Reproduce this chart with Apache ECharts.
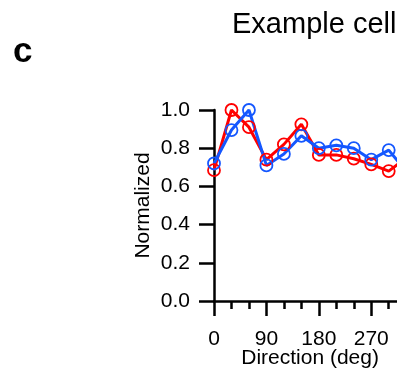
<!DOCTYPE html>
<html>
<head>
<meta charset="utf-8">
<script src="https://cdn.jsdelivr.net/npm/echarts@6/dist/echarts.min.js"></script>
<style>
  html, body { margin: 0; padding: 0; background: #fff; }
  #chart { width: 397px; height: 373px; }
</style>
</head>
<body>
<div id="chart"></div>
<script>
// Direction tuning of one example cell, two conditions
const directions = [0, 30, 60, 90, 120, 150, 180, 210, 240, 270, 300, 330];
const redResponse  = [0.685, 1.0, 0.91, 0.74, 0.82, 0.925, 0.765, 0.765, 0.745, 0.715, 0.68, 0.75];
const blueResponse = [0.72, 0.895, 1.0, 0.71, 0.77, 0.865, 0.80, 0.815, 0.80, 0.74, 0.79, 0.68];
const xTickLabels = [0, 90, 180, 270];
const yTickLabels = [0.0, 0.2, 0.4, 0.6, 0.8, 1.0];

const FONT = 'Liberation Sans, Arial, sans-serif';
const INK = '#000';

function pairs(xs, ys) { return xs.map((x, i) => [x, ys[i]]); }

function lineSeries(name, color, values) {
  return {
    name: name,
    type: 'line',
    data: pairs(directions, values),
    symbol: 'circle',
    symbolSize: 12,
    showSymbol: true,
    clip: false,
    lineStyle: { color: color, width: 3 },
    itemStyle: { color: 'rgba(0,0,0,0)', borderColor: color, borderWidth: 1.8 },
    emphasis: { disabled: true },
    animation: false
  };
}

const chart = echarts.init(document.getElementById('chart'), null, { renderer: 'canvas' });
chart.setOption({
  backgroundColor: '#fff',
  animation: false,
  title: [
    { text: 'Example cell', left: 227, top: 5,
      textStyle: { fontFamily: FONT, fontSize: 29, fontWeight: 'normal', color: INK } },
    { text: 'c', left: 8, top: 30,
      textStyle: { fontFamily: FONT, fontSize: 35, fontWeight: 'bold', color: INK } }
  ],
  grid: { left: 214, top: 110, width: 192.2, height: 191, outerBoundsMode: 'none', containLabel: false },
  xAxis: {
    type: 'value',
    min: 0, max: 330, interval: 90,
    name: 'Direction (deg)',
    nameLocation: 'middle',
    nameGap: 47,
    nameMoveOverlap: false,
    nameTextStyle: { fontFamily: FONT, fontSize: 21, color: INK },
    axisLine: { show: true, lineStyle: { color: INK, width: 2.5 } },
    axisTick: { show: true, inside: false, length: 15, lineStyle: { color: INK, width: 2.5 } },
    minorTick: { show: true, splitNumber: 3, length: 8, lineStyle: { color: INK, width: 2.5 } },
    axisLabel: {
      margin: 28, fontFamily: FONT, fontSize: 21, color: INK,
      formatter: v => xTickLabels.includes(v) ? String(v) : ''
    },
    splitLine: { show: false }
  },
  yAxis: {
    type: 'value',
    min: 0, max: 1, interval: 0.2,
    name: 'Normalized',
    nameLocation: 'middle',
    nameGap: 60,
    nameMoveOverlap: false,
    nameTextStyle: { fontFamily: FONT, fontSize: 21, color: INK },
    axisLine: { show: true, lineStyle: { color: INK, width: 2.5 } },
    axisTick: { show: true, inside: false, length: 15, lineStyle: { color: INK, width: 2.5 } },
    axisLabel: {
      margin: 24, fontFamily: FONT, fontSize: 21, color: INK,
      formatter: v => yTickLabels.find(t => Math.abs(t - v) < 1e-6).toFixed(1)
    },
    splitLine: { show: false }
  },
  series: [
    lineSeries('red', '#ff0000', redResponse),
    lineSeries('blue', '#1457ff', blueResponse)
  ]
});
</script>
</body>
</html>
